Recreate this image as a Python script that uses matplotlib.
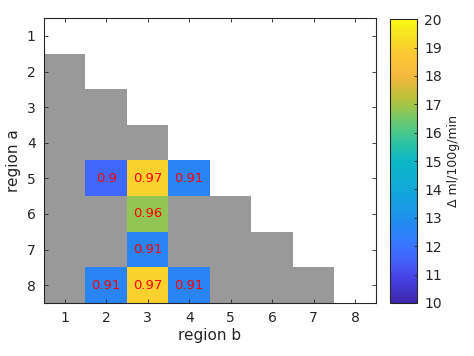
import numpy as np
import matplotlib
matplotlib.use("Agg")
import matplotlib.pyplot as plt
from matplotlib.colors import LinearSegmentedColormap, ListedColormap

# ---- data ----
regions = [1, 2, 3, 4, 5, 6, 7, 8]
rows_a = [5, 5, 5, 6, 7, 8, 8, 8]
cols_b = [2, 3, 4, 3, 3, 2, 3, 4]
delta = [11.7, 19.0, 12.6, 16.8, 12.6, 12.6, 19.0, 12.6]
cell_text = ['0.9', '0.97', '0.91', '0.96', '0.91', '0.91', '0.97', '0.91']
cbar_ticks = [10, 11, 12, 13, 14, 15, 16, 17, 18, 19, 20]

# parula-like colormap
parula_pts = [
    (0.00, (0.24, 0.15, 0.66)),
    (0.08, (0.27, 0.25, 0.88)),
    (0.15, (0.27, 0.38, 0.99)),
    (0.22, (0.20, 0.48, 0.99)),
    (0.30, (0.12, 0.57, 0.93)),
    (0.40, (0.07, 0.66, 0.85)),
    (0.50, (0.04, 0.72, 0.78)),
    (0.58, (0.22, 0.77, 0.60)),
    (0.65, (0.45, 0.79, 0.42)),
    (0.72, (0.72, 0.76, 0.22)),
    (0.80, (0.96, 0.72, 0.25)),
    (0.88, (0.99, 0.79, 0.20)),
    (0.94, (0.97, 0.88, 0.14)),
    (1.00, (0.98, 0.98, 0.08)),
]
parula = LinearSegmentedColormap.from_list("parula", parula_pts)

n = len(regions)
gray_mask = np.full((n, n), np.nan)
for i in range(n):
    for j in range(n):
        if i > j:
            gray_mask[i, j] = 1.0
vals = np.full((n, n), np.nan)
for r, c, v in zip(rows_a, cols_b, delta):
    vals[r - 1, c - 1] = v
    gray_mask[r - 1, c - 1] = np.nan

fig = plt.figure(figsize=(4.74, 3.56), dpi=100)
ax = fig.add_axes([0.0928, 0.149, 0.7004, 0.800])
ext = [0.5, n + 0.5, n + 0.5, 0.5]
ax.imshow(gray_mask, cmap=ListedColormap(['#999999']), extent=ext,
          aspect='auto', interpolation='nearest')
im = ax.imshow(vals, cmap=parula, vmin=10, vmax=20, extent=ext,
               aspect='auto', interpolation='nearest')
for r, c, t in zip(rows_a, cols_b, cell_text):
    ax.text(c, r, t, color='red', ha='center', va='center', fontsize=9.5)

tc = '#262626'
ax.set_xlim(0.5, n + 0.5)
ax.set_ylim(n + 0.5, 0.5)
ax.set_xticks(regions)
ax.set_yticks(regions)
ax.tick_params(direction='in', length=3, width=0.6, colors=tc, labelsize=10,
               top=True, right=True, labelcolor=tc, pad=6)
for s in ax.spines.values():
    s.set_color(tc)
    s.set_linewidth(0.8)
ax.set_xlabel('region b', fontsize=11, color=tc, labelpad=2)
ax.set_ylabel('region a', fontsize=11, color=tc, labelpad=4)

cax = fig.add_axes([0.823, 0.149, 0.057, 0.797])
cb = fig.colorbar(im, cax=cax, ticks=cbar_ticks)
cb.outline.set_edgecolor(tc)
cb.outline.set_linewidth(0.8)
cax.tick_params(direction='in', length=2.5, width=0.6, colors=tc, labelsize=10,
                labelcolor=tc, pad=5)
cb.set_label('Δ ml/100g/min', fontsize=9, color=tc, labelpad=4)

fig.savefig('out.png', dpi=100)
